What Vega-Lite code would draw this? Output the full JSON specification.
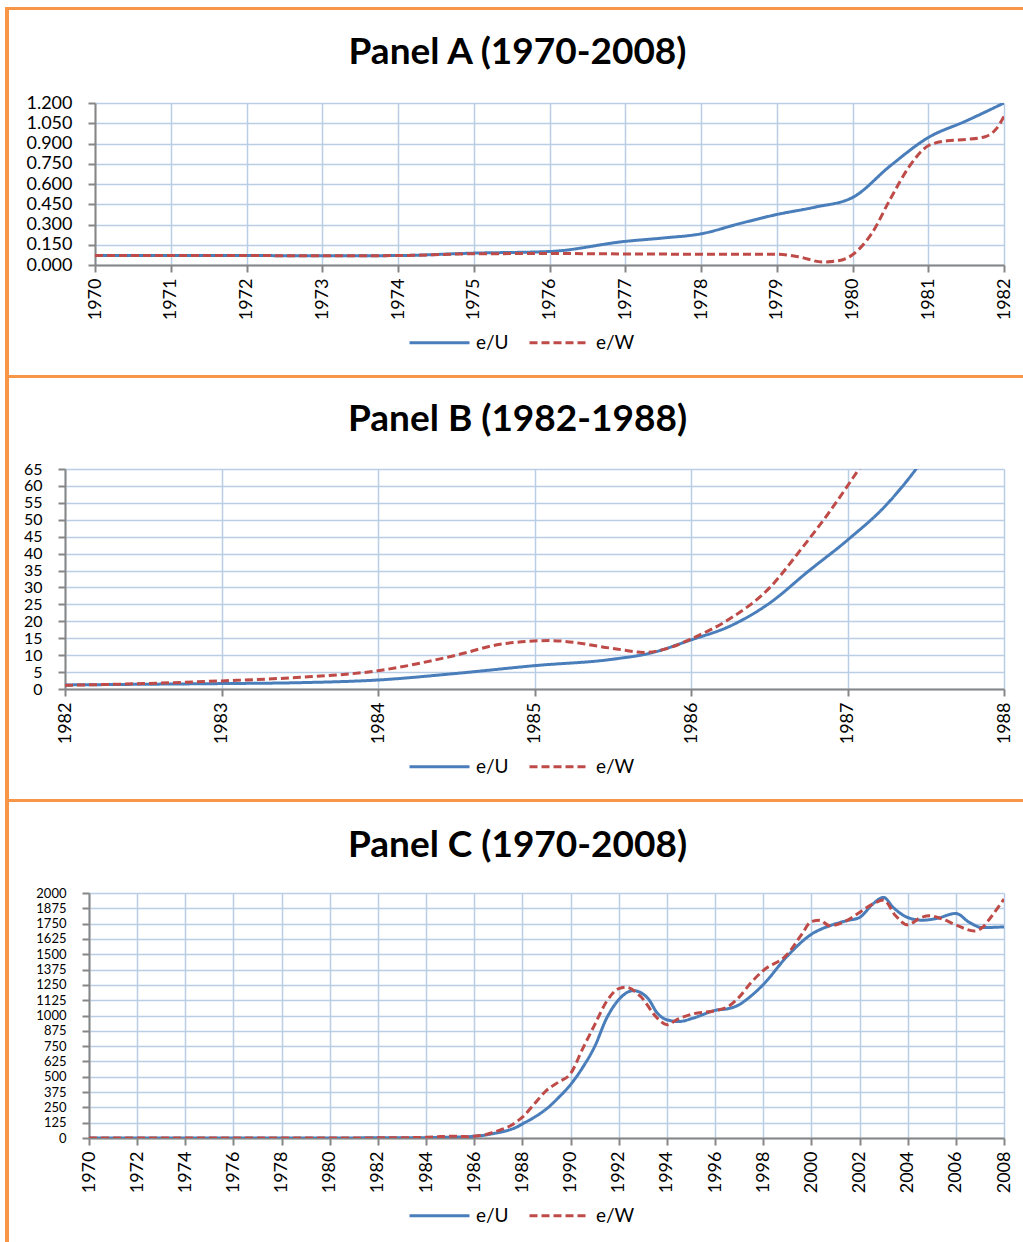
{
  "$schema": "https://vega.github.io/schema/vega-lite/v6.json",
  "background": "white",
  "padding": {"left": 5, "top": 7, "right": 0, "bottom": 0},
  "config": {
    "font": "Lato",
    "view": {"stroke": null},
    "title": {"font": "Lato", "fontSize": 37, "fontWeight": "bold", "color": "black", "anchor": "middle", "frame": "bounds", "offset": 22},
    "axis": {"labelFont": "Lato", "labelFontSize": 18, "labelColor": "black", "domainColor": "#868686", "domainWidth": 2, "tickColor": "#868686", "tickWidth": 2, "tickSize": 7, "gridColor": "#B9CDE5", "gridWidth": 1.5, "title": null, "labelOverlap": false, "labelBound": false, "labelFlush": false},
    "legend": {"orient": "none", "direction": "horizontal", "title": null, "padding": 0, "symbolType": "stroke", "symbolSize": 3600, "symbolStrokeWidth": 3, "labelFont": "Lato", "labelFontSize": 19, "labelColor": "black", "labelOffset": 5, "columnPadding": 14}
  },
  "datasets": {
    "d": [
      {"year": 1970, "series": "e/U", "value": 0.07},
      {"year": 1971, "series": "e/U", "value": 0.07},
      {"year": 1972, "series": "e/U", "value": 0.07},
      {"year": 1973, "series": "e/U", "value": 0.068},
      {"year": 1974, "series": "e/U", "value": 0.07},
      {"year": 1975, "series": "e/U", "value": 0.088},
      {"year": 1976, "series": "e/U", "value": 0.10},
      {"year": 1977, "series": "e/U", "value": 0.175},
      {"year": 1977.5, "series": "e/U", "value": 0.2},
      {"year": 1978, "series": "e/U", "value": 0.231},
      {"year": 1978.5, "series": "e/U", "value": 0.305},
      {"year": 1979, "series": "e/U", "value": 0.374},
      {"year": 1979.5, "series": "e/U", "value": 0.428},
      {"year": 1980, "series": "e/U", "value": 0.50},
      {"year": 1980.5, "series": "e/U", "value": 0.735},
      {"year": 1981, "series": "e/U", "value": 0.944},
      {"year": 1981.5, "series": "e/U", "value": 1.067},
      {"year": 1982, "series": "e/U", "value": 1.2},
      {"year": 1982.5, "series": "e/U", "value": 1.4},
      {"year": 1983, "series": "e/U", "value": 1.6},
      {"year": 1983.5, "series": "e/U", "value": 1.87},
      {"year": 1984, "series": "e/U", "value": 2.66},
      {"year": 1984.5, "series": "e/U", "value": 4.6},
      {"year": 1985, "series": "e/U", "value": 6.9},
      {"year": 1985.5, "series": "e/U", "value": 8.8},
      {"year": 1985.75, "series": "e/U", "value": 10.7},
      {"year": 1986, "series": "e/U", "value": 14.5},
      {"year": 1986.25, "series": "e/U", "value": 18.6},
      {"year": 1986.5, "series": "e/U", "value": 25.3},
      {"year": 1986.75, "series": "e/U", "value": 34.8},
      {"year": 1987, "series": "e/U", "value": 44},
      {"year": 1987.25, "series": "e/U", "value": 54.5},
      {"year": 1987.5, "series": "e/U", "value": 69},
      {"year": 1987.75, "series": "e/U", "value": 88},
      {"year": 1988, "series": "e/U", "value": 115},
      {"year": 1988.5, "series": "e/U", "value": 170},
      {"year": 1989, "series": "e/U", "value": 238},
      {"year": 1989.5, "series": "e/U", "value": 330},
      {"year": 1990, "series": "e/U", "value": 436},
      {"year": 1990.5, "series": "e/U", "value": 575},
      {"year": 1991, "series": "e/U", "value": 746},
      {"year": 1991.5, "series": "e/U", "value": 979},
      {"year": 1992, "series": "e/U", "value": 1129},
      {"year": 1992.6, "series": "e/U", "value": 1203},
      {"year": 1993.2, "series": "e/U", "value": 1143},
      {"year": 1993.6, "series": "e/U", "value": 1020},
      {"year": 1994, "series": "e/U", "value": 965},
      {"year": 1994.5, "series": "e/U", "value": 951},
      {"year": 1995.1, "series": "e/U", "value": 979},
      {"year": 1996, "series": "e/U", "value": 1042},
      {"year": 1996.6, "series": "e/U", "value": 1058},
      {"year": 1997, "series": "e/U", "value": 1088},
      {"year": 1997.3, "series": "e/U", "value": 1129},
      {"year": 1998, "series": "e/U", "value": 1252},
      {"year": 1999, "series": "e/U", "value": 1485},
      {"year": 2000, "series": "e/U", "value": 1663},
      {"year": 2000.75, "series": "e/U", "value": 1732},
      {"year": 2001.45, "series": "e/U", "value": 1773},
      {"year": 2002, "series": "e/U", "value": 1800},
      {"year": 2002.55, "series": "e/U", "value": 1910},
      {"year": 2003, "series": "e/U", "value": 1964},
      {"year": 2003.4, "series": "e/U", "value": 1882},
      {"year": 2004, "series": "e/U", "value": 1800},
      {"year": 2004.6, "series": "e/U", "value": 1778},
      {"year": 2005.2, "series": "e/U", "value": 1792},
      {"year": 2006, "series": "e/U", "value": 1833},
      {"year": 2006.57, "series": "e/U", "value": 1759},
      {"year": 2007.1, "series": "e/U", "value": 1718},
      {"year": 2008, "series": "e/U", "value": 1723},
      {"year": 1970, "series": "e/W", "value": 0.07},
      {"year": 1971, "series": "e/W", "value": 0.07},
      {"year": 1972, "series": "e/W", "value": 0.07},
      {"year": 1973, "series": "e/W", "value": 0.068},
      {"year": 1974, "series": "e/W", "value": 0.07},
      {"year": 1975, "series": "e/W", "value": 0.083},
      {"year": 1976, "series": "e/W", "value": 0.085},
      {"year": 1977, "series": "e/W", "value": 0.082},
      {"year": 1978, "series": "e/W", "value": 0.08},
      {"year": 1979, "series": "e/W", "value": 0.08},
      {"year": 1979.3, "series": "e/W", "value": 0.06},
      {"year": 1979.6, "series": "e/W", "value": 0.022},
      {"year": 1979.8, "series": "e/W", "value": 0.03},
      {"year": 1980, "series": "e/W", "value": 0.076},
      {"year": 1980.25, "series": "e/W", "value": 0.23},
      {"year": 1980.5, "series": "e/W", "value": 0.49},
      {"year": 1980.75, "series": "e/W", "value": 0.73},
      {"year": 1981, "series": "e/W", "value": 0.883},
      {"year": 1981.25, "series": "e/W", "value": 0.92},
      {"year": 1981.5, "series": "e/W", "value": 0.93},
      {"year": 1981.75, "series": "e/W", "value": 0.95},
      {"year": 1981.9, "series": "e/W", "value": 1.01},
      {"year": 1982, "series": "e/W", "value": 1.10},
      {"year": 1982.5, "series": "e/W", "value": 1.6},
      {"year": 1983, "series": "e/W", "value": 2.4},
      {"year": 1983.5, "series": "e/W", "value": 3.45},
      {"year": 1984, "series": "e/W", "value": 5.4},
      {"year": 1984.5, "series": "e/W", "value": 10.0},
      {"year": 1984.78, "series": "e/W", "value": 13.2},
      {"year": 1985.1, "series": "e/W", "value": 14.3},
      {"year": 1985.5, "series": "e/W", "value": 12.0},
      {"year": 1985.7, "series": "e/W", "value": 10.8},
      {"year": 1985.85, "series": "e/W", "value": 12.0},
      {"year": 1986, "series": "e/W", "value": 14.8},
      {"year": 1986.25, "series": "e/W", "value": 20.8},
      {"year": 1986.5, "series": "e/W", "value": 29.8},
      {"year": 1986.7, "series": "e/W", "value": 41.1},
      {"year": 1986.87, "series": "e/W", "value": 51.4},
      {"year": 1987, "series": "e/W", "value": 60},
      {"year": 1987.25, "series": "e/W", "value": 78},
      {"year": 1987.5, "series": "e/W", "value": 100},
      {"year": 1987.75, "series": "e/W", "value": 132},
      {"year": 1988, "series": "e/W", "value": 170},
      {"year": 1988.5, "series": "e/W", "value": 280},
      {"year": 1989, "series": "e/W", "value": 389},
      {"year": 1989.5, "series": "e/W", "value": 457},
      {"year": 1990, "series": "e/W", "value": 526},
      {"year": 1990.5, "series": "e/W", "value": 728},
      {"year": 1991, "series": "e/W", "value": 924},
      {"year": 1991.5, "series": "e/W", "value": 1116},
      {"year": 1992, "series": "e/W", "value": 1220},
      {"year": 1992.3, "series": "e/W", "value": 1231},
      {"year": 1992.9, "series": "e/W", "value": 1157},
      {"year": 1993.6, "series": "e/W", "value": 979},
      {"year": 1994, "series": "e/W", "value": 924},
      {"year": 1994.4, "series": "e/W", "value": 965},
      {"year": 1995.1, "series": "e/W", "value": 1014},
      {"year": 1996, "series": "e/W", "value": 1039},
      {"year": 1996.6, "series": "e/W", "value": 1080},
      {"year": 1997, "series": "e/W", "value": 1150},
      {"year": 1997.5, "series": "e/W", "value": 1270},
      {"year": 1998, "series": "e/W", "value": 1367},
      {"year": 1999, "series": "e/W", "value": 1499},
      {"year": 1999.6, "series": "e/W", "value": 1663},
      {"year": 2000, "series": "e/W", "value": 1767},
      {"year": 2000.35, "series": "e/W", "value": 1778},
      {"year": 2000.76, "series": "e/W", "value": 1732},
      {"year": 2001.45, "series": "e/W", "value": 1773},
      {"year": 2002, "series": "e/W", "value": 1841},
      {"year": 2002.55, "series": "e/W", "value": 1910},
      {"year": 2003, "series": "e/W", "value": 1942},
      {"year": 2003.5, "series": "e/W", "value": 1814},
      {"year": 2004, "series": "e/W", "value": 1740},
      {"year": 2004.55, "series": "e/W", "value": 1800},
      {"year": 2004.9, "series": "e/W", "value": 1814},
      {"year": 2005.46, "series": "e/W", "value": 1786},
      {"year": 2006, "series": "e/W", "value": 1740},
      {"year": 2006.77, "series": "e/W", "value": 1690},
      {"year": 2007.1, "series": "e/W", "value": 1718},
      {"year": 2007.5, "series": "e/W", "value": 1814},
      {"year": 2008, "series": "e/W", "value": 1951}
    ]
  },
  "spacing": 0,
  "hconcat": [
    {"width": 4, "height": 1240, "data": {"values": []}, "mark": "point", "view": {"fill": "#F79646", "stroke": null}},
    {
      "spacing": 0,
      "vconcat": [
        {"width": 1014, "height": 3, "data": {"values": []}, "mark": "point", "view": {"fill": "#F79646", "stroke": null}},
        {"width": 1, "height": 24, "data": {"values": []}, "mark": "point", "view": {"fill": "white", "stroke": null}},
        {
          "spacing": 12,
          "hconcat": [
            {"width": 1, "height": 1, "data": {"values": []}, "mark": "point", "view": {"fill": "white", "stroke": null}},
            {
              "title": {"text": "Panel A (1970-2008)"},
              "width": 909,
              "height": 162,
              "data": {"name": "d"},
              "transform": [{"filter": "datum.year <= 1982"}],
              "mark": {"type": "line", "interpolate": "monotone", "strokeWidth": 3, "clip": true},
              "encoding": {
                "x": {"field": "year", "type": "quantitative", "scale": {"domain": [1970, 1982], "nice": false, "zero": false},
                      "axis": {"values": [1970,1971,1972,1973,1974,1975,1976,1977,1978,1979,1980,1981,1982], "format": "d", "labelAngle": -90, "grid": true, "labelPadding": 6}},
                "y": {"field": "value", "type": "quantitative", "scale": {"domain": [0, 1.2], "nice": false},
                      "axis": {"values": [0,0.15,0.3,0.45,0.6,0.75,0.9,1.05,1.2], "format": ".3f", "grid": true, "labelPadding": 16, "minExtent": 73}},
                "color": {"field": "series", "type": "nominal", "scale": {"domain": ["e/U","e/W"], "range": ["#4A7EBB","#BE4B48"]}, "legend": {"legendX": 313, "legendY": 208}},
                "strokeDash": {"field": "series", "type": "nominal", "scale": {"domain": ["e/U","e/W"], "range": [[1,0],[8,4]]}, "legend": {"legendX": 313, "legendY": 208}}
              }
            }
          ],
          "resolve": {"legend": {"color": "independent", "strokeDash": "independent"}}
        },
        {"width": 1, "height": 22, "data": {"values": []}, "mark": "point", "view": {"fill": "white", "stroke": null}},
        {"width": 1014, "height": 3, "data": {"values": []}, "mark": "point", "view": {"fill": "#F79646", "stroke": null}},
        {"width": 1, "height": 23, "data": {"values": []}, "mark": "point", "view": {"fill": "white", "stroke": null}},
        {
          "spacing": 12,
          "hconcat": [
            {"width": 1, "height": 1, "data": {"values": []}, "mark": "point", "view": {"fill": "white", "stroke": null}},
            {
              "title": {"text": "Panel B (1982-1988)"},
              "width": 939,
              "height": 220,
              "data": {"name": "d"},
              "transform": [{"filter": "datum.year >= 1982 && datum.year <= 1988"}],
              "mark": {"type": "line", "interpolate": "monotone", "strokeWidth": 3, "clip": true},
              "encoding": {
                "x": {"field": "year", "type": "quantitative", "scale": {"domain": [1982, 1988], "nice": false, "zero": false},
                      "axis": {"values": [1982,1983,1984,1985,1986,1987,1988], "format": "d", "labelAngle": -90, "grid": true, "labelPadding": 6}},
                "y": {"field": "value", "type": "quantitative", "scale": {"domain": [0, 65], "nice": false},
                      "axis": {"values": [0,5,10,15,20,25,30,35,40,45,50,55,60,65], "format": "d", "grid": true, "labelPadding": 16, "labelFontSize": 16, "minExtent": 43}},
                "color": {"field": "series", "type": "nominal", "scale": {"domain": ["e/U","e/W"], "range": ["#4A7EBB","#BE4B48"]}, "legend": {"legendX": 343, "legendY": 266}},
                "strokeDash": {"field": "series", "type": "nominal", "scale": {"domain": ["e/U","e/W"], "range": [[1,0],[8,4]]}, "legend": {"legendX": 343, "legendY": 266}}
              }
            }
          ],
          "resolve": {"legend": {"color": "independent", "strokeDash": "independent"}}
        },
        {"width": 1, "height": 22, "data": {"values": []}, "mark": "point", "view": {"fill": "white", "stroke": null}},
        {"width": 1014, "height": 3, "data": {"values": []}, "mark": "point", "view": {"fill": "#F79646", "stroke": null}},
        {"width": 1, "height": 25, "data": {"values": []}, "mark": "point", "view": {"fill": "white", "stroke": null}},
        {
          "spacing": 12,
          "hconcat": [
            {"width": 1, "height": 1, "data": {"values": []}, "mark": "point", "view": {"fill": "white", "stroke": null}},
            {
              "title": {"text": "Panel C (1970-2008)"},
              "width": 915,
              "height": 245,
              "data": {"name": "d"},
              "mark": {"type": "line", "interpolate": "monotone", "strokeWidth": 3, "clip": true},
              "encoding": {
                "x": {"field": "year", "type": "quantitative", "scale": {"domain": [1970, 2008], "nice": false, "zero": false},
                      "axis": {"values": [1970,1972,1974,1976,1978,1980,1982,1984,1986,1988,1990,1992,1994,1996,1998,2000,2002,2004,2006,2008], "format": "d", "labelAngle": -90, "grid": true, "labelPadding": 6}},
                "y": {"field": "value", "type": "quantitative", "scale": {"domain": [0, 2000], "nice": false},
                      "axis": {"values": [0,125,250,375,500,625,750,875,1000,1125,1250,1375,1500,1625,1750,1875,2000], "format": "d", "grid": true, "labelPadding": 16, "labelFontSize": 13, "minExtent": 67}},
                "color": {"field": "series", "type": "nominal", "scale": {"domain": ["e/U","e/W"], "range": ["#4A7EBB","#BE4B48"]}, "legend": {"legendX": 319, "legendY": 291}},
                "strokeDash": {"field": "series", "type": "nominal", "scale": {"domain": ["e/U","e/W"], "range": [[1,0],[8,4]]}, "legend": {"legendX": 319, "legendY": 291}}
              }
            }
          ],
          "resolve": {"legend": {"color": "independent", "strokeDash": "independent"}}
        }
      ],
      "resolve": {"scale": {"x": "independent", "y": "independent"}, "legend": {"color": "independent", "strokeDash": "independent"}}
    }
  ],
  "resolve": {"scale": {"x": "independent", "y": "independent"}, "legend": {"color": "independent", "strokeDash": "independent"}}
}
